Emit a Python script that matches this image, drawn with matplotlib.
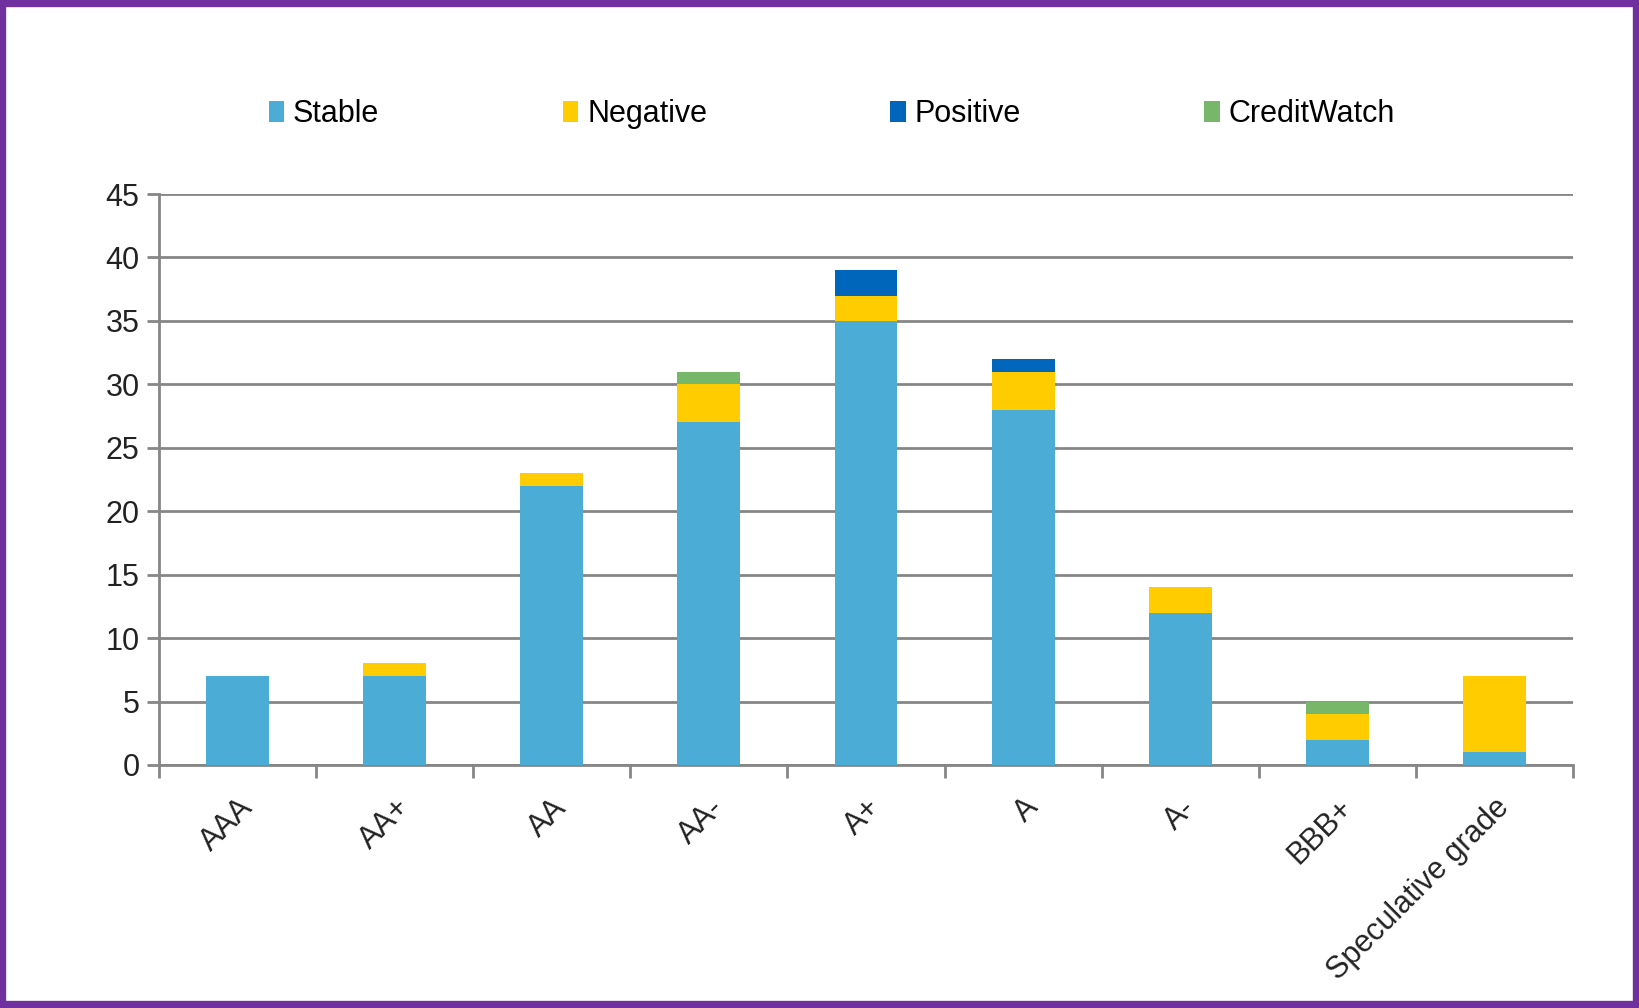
import numpy as np
import matplotlib.pyplot as plt
import matplotlib.transforms as mtransforms
from matplotlib.patches import Rectangle

plt.rcParams['font.family'] = ['Liberation Sans', 'DejaVu Sans']

ratings = ['AAA', 'AA+', 'AA', 'AA-', 'A+', 'A', 'A-', 'BBB+', 'Speculative grade']
stable = [7, 7, 22, 27, 35, 28, 12, 2, 1]
negative = [0, 1, 1, 3, 2, 3, 2, 2, 6]
positive = [0, 0, 0, 0, 2, 1, 0, 0, 0]
creditwatch = [0, 0, 0, 1, 0, 0, 0, 1, 0]

series = [
    ('Stable', stable, '#4BACD6'),
    ('Negative', negative, '#FFCC00'),
    ('Positive', positive, '#0066BB'),
    ('CreditWatch', creditwatch, '#77B76A'),
]

fig = plt.figure(figsize=(16.39, 10.08), dpi=100)
W, H = 1639, 1008
ax = fig.add_axes([159 / W, 1 - 765 / H, (1573 - 159) / W, (765 - 194) / H])

x = np.arange(len(ratings))
bottom = np.zeros(len(ratings))
for name, vals, col in series:
    vals = np.array(vals, dtype=float)
    ax.bar(x, vals, bottom=bottom, width=0.4, color=col, label=name, zorder=3)
    bottom += vals

ax.set_xlim(-0.5, len(ratings) - 0.5)
ax.set_ylim(0, 45)
ax.set_yticks(np.arange(0, 46, 5))
ax.yaxis.grid(True, color='#868686', linewidth=2, zorder=0)
ax.set_axisbelow(True)

# ticks sit between categories, labels sit under bars
ax.set_xticks(np.arange(-0.5, len(ratings), 1.0))
ax.set_xticklabels([])
ax.set_xticks(x, minor=True)
ax.set_xticklabels(ratings, minor=True, rotation=45, ha='right', va='top',
                   rotation_mode='anchor', fontsize=22, color='#222222')
shift = mtransforms.ScaledTranslation(-8 / 100, 0, fig.dpi_scale_trans)
for lbl in ax.get_xticklabels(minor=True):
    lbl.set_transform(lbl.get_transform() + shift)
ax.tick_params(axis='x', which='minor', length=0, pad=20)
ax.tick_params(axis='x', which='major', length=9, width=2, color='#868686', direction='out')
ax.tick_params(axis='y', length=9, width=2, color='#868686', labelsize=22,
               labelcolor='#222222', pad=5)

for side in ['top', 'right']:
    ax.spines[side].set_visible(False)
for side in ['left', 'bottom']:
    ax.spines[side].set_color('#868686')
    ax.spines[side].set_linewidth(2)

leg = fig.legend(loc='center', bbox_to_anchor=(0.5076, 1 - 114 / H), ncol=4, frameon=False,
                 fontsize=22, handlelength=0.5, handleheight=0.7, handletextpad=0.3,
                 columnspacing=6.0)

# purple frame around the whole figure
fig.patches.append(Rectangle((0.0015, 0.0025), 0.997, 0.995, transform=fig.transFigure,
                             fill=False, edgecolor='#7030A0', linewidth=6))

fig.savefig('out.png', dpi=100, facecolor='white')
